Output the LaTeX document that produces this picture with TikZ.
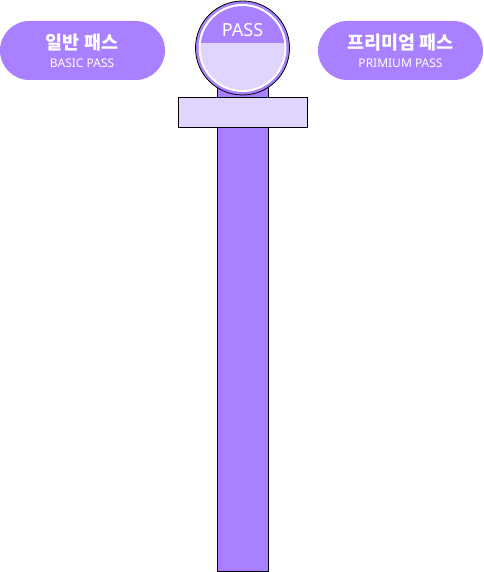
\documentclass[tikz,border=0pt]{standalone}
\usepackage{fontspec}
\setmainfont{Noto Sans CJK KR}
\newfontfamily\latin{Noto Sans}
\begin{document}
\begin{tikzpicture}[x=1pt,y=-1pt,
  pill/.style={fill=pp, rounded corners=29.5pt, minimum width=165pt, minimum height=59pt, inner sep=0pt},
  title/.style={text=white, inner sep=0pt, font=\fontsize{18.5}{20}\selectfont\bfseries},
  sub/.style={text=white, inner sep=0pt, font=\latin\fontsize{12}{13}\selectfont},
  barbox/.style={draw=black, line width=0.8pt, fill=lav}]
\definecolor{pp}{HTML}{A980FF}
\definecolor{lav}{HTML}{E0D5FF}
\useasboundingbox (0,0) rectangle (483,572);
% stem
\node[barbox, fill=pp, minimum width=51.5pt, minimum height=523pt, inner sep=0pt, anchor=north west] (stem) at (216.5,48) {};
% pills
\node[pill] (basic) at (82.5,50.5) {};
\node[title] (basict) at (82,42.5) {일반 패스};
\node[sub] (basics) at (82,63) {BASIC PASS};
\node[pill] (premium) at (400.5,50.5) {};
\node[title] (premt) at (400.5,42.5) {프리미엄 패스};
\node[sub] (prems) at (400.5,63) {PRIMIUM PASS};
% badge
\coordinate (c) at (242.5,48);
\fill[pp, draw=black, line width=0.8pt] (c) circle (47);
\begin{scope}
\clip (c) circle (43);
\fill[lav] (194,43) rectangle (291,96);
\end{scope}
\draw[white, line width=2pt] (c) circle (43);
\node[text=white, font=\latin\fontsize{18}{20}\selectfont, inner sep=0pt] (pass) at (242.5,30) {PASS};
% crossbar
\node[barbox, minimum width=129pt, minimum height=30pt, inner sep=0pt, anchor=north west] (bar) at (178,97) {};
\end{tikzpicture}
\end{document}
